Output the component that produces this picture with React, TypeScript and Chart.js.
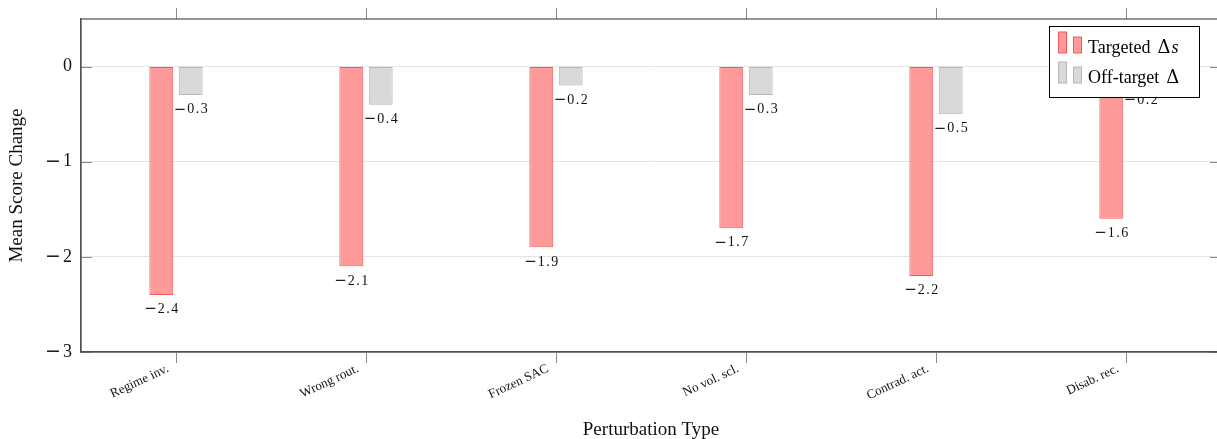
import React, { useEffect, useRef } from 'react';
import { Chart, registerables } from 'chart.js';
Chart.register(...registerables);

const categories = ['Regime inv.', 'Wrong rout.', 'Frozen SAC', 'No vol. scl.', 'Contrad. act.', 'Disab. rec.'];
const targeted = [-2.4, -2.1, -1.9, -1.7, -2.2, -1.6];
const offTarget = [-0.3, -0.4, -0.2, -0.3, -0.5, -0.2];
const yTicks = [0, -1, -2, -3];
const seriesNames = ['Targeted', 'Off-target'];
const seriesSymbols = ['Δ', 'Δ'];
const seriesItalicSuffix = ['s', ''];
const fillColors = ['#FF9A9A', '#D9D9D9'];
const borderColors = ['#F25A5A', '#B5B5B5'];

const FONT = '"Liberation Serif", "Times New Roman", serif';
const MATHFONT = '"DejaVu Serif", serif';

// draws a signed number: the minus sign in a wider math-like font, digits in serif
function drawSigned(ctx: any, v: number, decimals: number, x: number, y: number, align: string, size: number, spacing: number, minusSize: number, gap: number) {
  const neg = v < 0;
  const digits = decimals >= 0 ? Math.abs(v).toFixed(decimals) : String(Math.abs(v));
  ctx.save();
  ctx.textBaseline = 'middle';
  ctx.textAlign = 'left';
  try { ctx.letterSpacing = '0px'; } catch (e) {}
  ctx.font = `${minusSize}px ${MATHFONT}`;
  const mw = neg ? ctx.measureText('\u2212').width + gap : 0;
  ctx.font = `${size}px ${FONT}`;
  try { ctx.letterSpacing = spacing + 'px'; } catch (e) {}
  const dw = ctx.measureText(digits).width - spacing;
  const total = mw + dw;
  let sx = x;
  if (align === 'center') sx = x - total / 2;
  else if (align === 'right') sx = x - total;
  if (neg) {
    try { ctx.letterSpacing = '0px'; } catch (e) {}
    ctx.font = `${minusSize}px ${MATHFONT}`;
    ctx.fillText('\u2212', sx, y);
    ctx.font = `${size}px ${FONT}`;
    try { ctx.letterSpacing = spacing + 'px'; } catch (e) {}
  }
  ctx.fillText(digits, sx + mw, y);
  ctx.restore();
}

const labelPlugin = {
  id: 'barLabels',
  afterDatasetsDraw(chart: any) {
    const ctx = chart.ctx;
    ctx.save();
    ctx.fillStyle = '#111';
    chart.data.datasets.forEach((ds: any, di: number) => {
      const meta = chart.getDatasetMeta(di);
      meta.data.forEach((bar: any, i: number) => {
        drawSigned(ctx, ds.data[i], 1, bar.x, bar.y + 14.5, 'center', 14, 1.5, 15, 1);
      });
    });
    ctx.restore();
  },
};

const framePlugin = {
  id: 'frameLegend',
  afterDraw(chart: any) {
    const { ctx, chartArea: a, scales } = chart;
    const x = scales.x;
    const y = scales.y;
    ctx.save();
    ctx.strokeStyle = '#8a8a8a';
    ctx.lineWidth = 1;
    ctx.beginPath();
    categories.forEach((_, i) => {
      const px = Math.round(x.getPixelForValue(i)) + 0.5;
      ctx.moveTo(px, a.top);
      ctx.lineTo(px, a.top - 11);
    });
    yTicks.forEach((v) => {
      const py = Math.round(y.getPixelForValue(v)) + 0.5;
      ctx.moveTo(a.left, py);
      ctx.lineTo(a.left + 11, py);
      ctx.moveTo(a.right, py);
      ctx.lineTo(a.right - 11, py);
    });
    ctx.stroke();

    // y tick labels
    ctx.fillStyle = '#111';
    yTicks.forEach((v) => {
      drawSigned(ctx, v, -1, a.left - 9, y.getPixelForValue(v), 'right', 18, 0, 19, 2);
    });

    ctx.strokeStyle = '#505050';
    ctx.lineWidth = 1.2;
    ctx.strokeRect(a.left, a.top, a.right - a.left, a.bottom - a.top);

    // legend
    const bx = 1049.5, by = 26.5, bw = 150, bh = 71;
    ctx.fillStyle = '#fff';
    ctx.fillRect(bx, by, bw, bh);
    ctx.strokeStyle = '#000';
    ctx.lineWidth = 1;
    ctx.strokeRect(bx, by, bw, bh);
    seriesNames.forEach((name, i) => {
      const base = 53 + i * 30;
      ctx.fillStyle = fillColors[i];
      ctx.strokeStyle = borderColors[i];
      ctx.lineWidth = 1;
      ctx.fillRect(1058.5, base - 21, 8, 21);
      ctx.strokeRect(1058.5, base - 21, 8, 21);
      ctx.fillRect(1073.5, base - 16, 8, 16);
      ctx.strokeRect(1073.5, base - 16, 8, 16);
      ctx.fillStyle = '#000';
      ctx.textAlign = 'left';
      ctx.textBaseline = 'alphabetic';
      ctx.font = `18px ${FONT}`;
      ctx.fillText(name, 1088, base);
      let cx = 1088 + ctx.measureText(name).width + 7;
      ctx.font = `18px ${MATHFONT}`;
      ctx.fillText(seriesSymbols[i], cx, base);
      cx += ctx.measureText(seriesSymbols[i]).width + 1;
      if (seriesItalicSuffix[i]) {
        ctx.font = `italic 18px ${FONT}`;
        ctx.fillText(seriesItalicSuffix[i], cx, base);
      }
    });
    ctx.restore();
  },
};

export default function App() {
  const ref = useRef<HTMLCanvasElement>(null);
  useEffect(() => {
    if (!ref.current) return;
    const chart = new Chart(ref.current, {
      type: 'bar',
      data: {
        labels: categories,
        datasets: [
          {
            label: seriesNames[0] + ' ' + seriesSymbols[0] + seriesItalicSuffix[0],
            data: targeted,
            backgroundColor: fillColors[0],
            borderColor: borderColors[0],
            borderWidth: 1,
            borderSkipped: false,
            categoryPercentage: 0.31,
            barPercentage: 0.81,
          },
          {
            label: seriesNames[1] + ' ' + seriesSymbols[1] + seriesItalicSuffix[1],
            data: offTarget,
            backgroundColor: fillColors[1],
            borderColor: borderColors[1],
            borderWidth: 1,
            borderSkipped: false,
            categoryPercentage: 0.31,
            barPercentage: 0.81,
          },
        ],
      },
      options: {
        responsive: false,
        animation: false,
        devicePixelRatio: 1,
        layout: { padding: { top: 19, right: 4, left: 0, bottom: 0 } },
        plugins: { legend: { display: false }, tooltip: { enabled: false } },
        scales: {
          x: {
            offset: true,
            grid: {
              offset: false,
              drawOnChartArea: false,
              drawTicks: true,
              tickLength: 11,
              color: '#8a8a8a',
            },
            border: { display: true, color: '#505050', width: 1.2 },
            ticks: {
              font: { family: FONT, size: 13 },
              color: '#111',
              minRotation: 25,
              maxRotation: 25,
              autoSkip: false,
              padding: -2,
              labelOffset: -8,
            },
            title: {
              display: true,
              text: 'Perturbation Type',
              font: { family: FONT, size: 19 },
              color: '#111',
              padding: { top: 0, bottom: -2 },
            },
            afterFit: (s: any) => { s.height = 87; },
          },
          y: {
            min: -3,
            max: 0.5,
            afterBuildTicks: (s: any) => { s.ticks = yTicks.map((v) => ({ value: v })); },
            grid: { color: '#e4e4e4', drawTicks: false, tickLength: 0 },
            border: { display: true, color: '#505050', width: 1.2 },
            ticks: { display: false },
            title: {
              display: true,
              text: 'Mean Score Change',
              font: { family: FONT, size: 19 },
              color: '#111',
              padding: { top: 5.5, bottom: 0 },
            },
            afterFit: (s: any) => { s.width = 81; },
          },
        },
      },
      plugins: [labelPlugin, framePlugin],
    });
    return () => chart.destroy();
  }, []);
  return (
    <div style={{ position: 'fixed', left: 0, top: 0, width: 1217, height: 439, overflow: 'hidden', background: '#fff' }}>
      <canvas ref={ref} width={1225} height={439} style={{ display: 'block', width: 1225, height: 439 }} />
    </div>
  );
}
